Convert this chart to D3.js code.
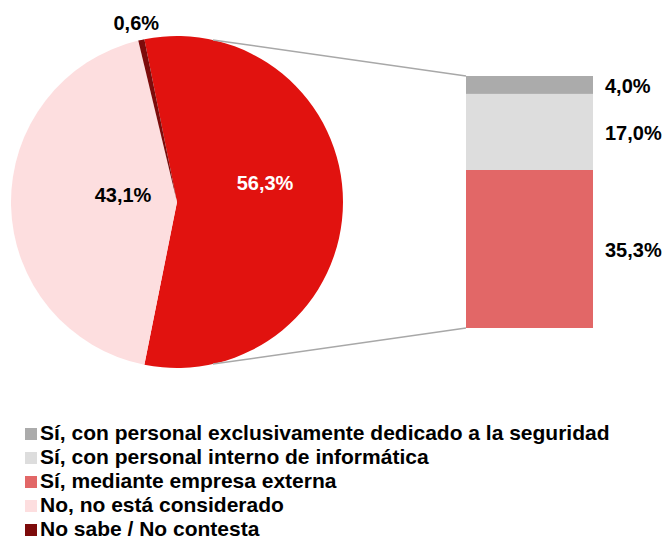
<!DOCTYPE html>
<html>
<head>
<meta charset="utf-8">
<script src="https://cdn.jsdelivr.net/npm/d3@7"></script>
<style>
  body { margin: 0; background: #fff; }
  text { font-family: "Liberation Sans", Arial, sans-serif; font-weight: bold; }
</style>
</head>
<body>
<div id="chart"></div>
<script>
// pie slices (order as drawn clockwise, starting with the split slice)
var pieNames = ["Sí (total)", "No, no está considerado", "No sabe / No contesta"];
var pieValues = [56.3, 43.1, 0.6];
var pieColors = ["#E1120F", "#FDDEDF", "#7D0B0B"];

// breakdown of the "Sí" slice, bottom to top
var barNames = ["Sí, mediante empresa externa", "Sí, con personal interno de informática", "Sí, con personal exclusivamente dedicado a la seguridad"];
var barValues = [35.3, 17.0, 4.0];
var barColors = ["#E26767", "#DDDDDD", "#ABABAB"];

// legend order
var legendNames = ["Sí, con personal exclusivamente dedicado a la seguridad",
                   "Sí, con personal interno de informática",
                   "Sí, mediante empresa externa",
                   "No, no está considerado",
                   "No sabe / No contesta"];
var legendColors = ["#ABABAB", "#DDDDDD", "#E26767", "#FDDEDF", "#7D0B0B"];

var fmt = function (v) { return d3.format(".1f")(v).replace(".", ",") + "%"; };

var width = 667, height = 539;
var cx = 177, cy = 202, r = 166;

var svg = d3.select("#chart").append("svg")
        .attr("width", width)
        .attr("height", height);

// rotate so the split slice is centered at 3 o'clock
var splitAngle = pieValues[0] / d3.sum(pieValues) * 2 * Math.PI;
var start = Math.PI / 2 - splitAngle / 2;
var pie = d3.pie().sort(null).value(function (d) { return d; })
        .startAngle(start).endAngle(start + 2 * Math.PI);
var arcs = pie(pieValues);
var arc = d3.arc().innerRadius(0).outerRadius(r);

var gPie = svg.append("g").attr("transform", "translate(" + cx + "," + cy + ")");
gPie.selectAll("path")
        .data(arcs)
        .enter()
        .append("path")
        .attr("d", arc)
        .attr("fill", function (d, i) { return pieColors[i]; });

// bar of the split slice
var barX = 466, barW = 127;
var y = d3.scaleLinear().domain([0, d3.sum(barValues)]).range([328, 76]);
var stacked = [];
var acc = 0;
barValues.forEach(function (v, i) {
        stacked.push({ v: v, y0: acc, y1: acc + v, color: barColors[i] });
        acc += v;
});

svg.selectAll("rect.bar")
        .data(stacked)
        .enter()
        .append("rect")
        .attr("class", "bar")
        .attr("x", barX)
        .attr("y", function (d) { return y(d.y1); })
        .attr("width", barW)
        .attr("height", function (d) { return y(d.y0) - y(d.y1); })
        .attr("fill", function (d) { return d.color; });

// connector lines
var connAngle = 12.5 * Math.PI / 180;
var conn = [
        { x1: cx + r * Math.sin(connAngle), y1: cy - r * Math.cos(connAngle), x2: barX, y2: y(acc) },
        { x1: cx + r * Math.sin(connAngle), y1: cy + r * Math.cos(connAngle), x2: barX, y2: y(0) }
];
svg.selectAll("line.conn")
        .data(conn)
        .enter()
        .append("line")
        .attr("class", "conn")
        .attr("x1", function (d) { return d.x1; })
        .attr("y1", function (d) { return d.y1; })
        .attr("x2", function (d) { return d.x2; })
        .attr("y2", function (d) { return d.y2; })
        .attr("stroke", "#A8A8A8")
        .attr("stroke-width", 1.5);

// pie labels
var labelArc = [
        { dx: 88, dy: -19, fill: "#fff" },
        { dx: -54, dy: -7, fill: "#000" },
        null
];
arcs.forEach(function (d, i) {
        var x, yy;
        if (labelArc[i]) {
                x = cx + labelArc[i].dx;
                yy = cy + labelArc[i].dy;
        } else {
                var mid = (d.startAngle + d.endAngle) / 2;
                x = cx + (r + 14) * Math.sin(mid) - 2;
                yy = cy - (r + 14) * Math.cos(mid) - 3;
        }
        svg.append("text")
                .attr("x", x)
                .attr("y", yy)
                .attr("dy", "0.35em")
                .attr("text-anchor", "middle")
                .attr("font-size", "20px")
                .attr("fill", labelArc[i] ? labelArc[i].fill : "#000")
                .text(fmt(pieValues[i]));
});

// bar labels
svg.selectAll("text.barlabel")
        .data(stacked)
        .enter()
        .append("text")
        .attr("class", "barlabel")
        .attr("x", 605)
        .attr("y", function (d) { return (y(d.y0) + y(d.y1)) / 2 + 8; })
        .attr("text-anchor", "start")
        .attr("font-size", "20px")
        .attr("fill", "#000")
        .text(function (d) { return fmt(d.v); });

// legend
var leg = svg.selectAll("g.leg")
        .data(legendNames)
        .enter()
        .append("g")
        .attr("class", "leg")
        .attr("transform", function (d, i) { return "translate(25," + (440 + i * 24) + ")"; });
leg.append("rect")
        .attr("x", 0)
        .attr("y", -12)
        .attr("width", 12)
        .attr("height", 12)
        .attr("fill", function (d, i) { return legendColors[i]; });
leg.append("text")
        .attr("x", 15)
        .attr("y", 0)
        .attr("font-size", "21px")
        .attr("fill", "#000")
        .text(function (d) { return d; });
</script>
</body>
</html>
